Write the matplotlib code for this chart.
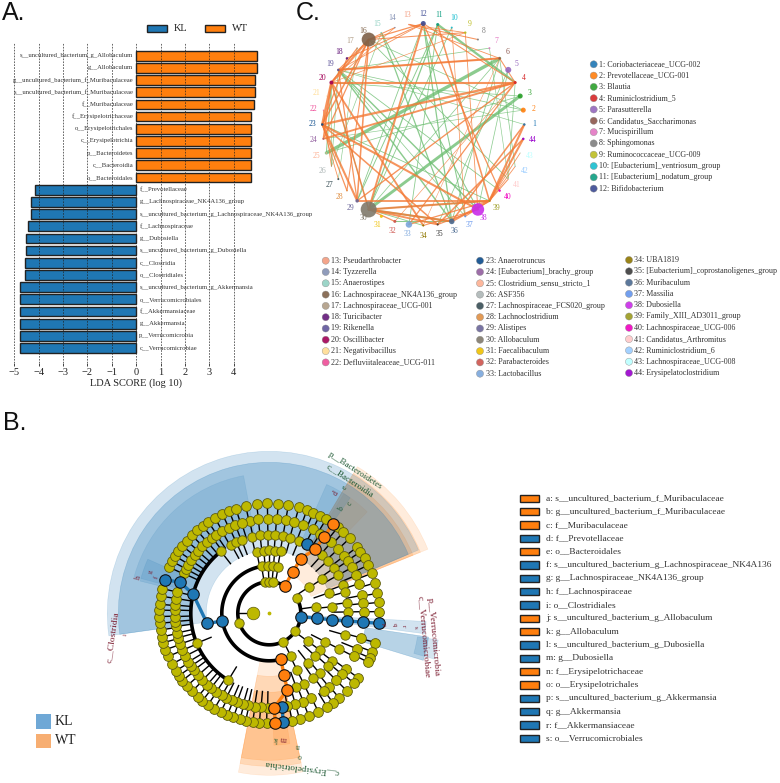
#!/usr/bin/env python3
"""LDA bars, correlation network and cladogram panels."""

import matplotlib

matplotlib.use("Agg")
import matplotlib.pyplot as plt
import numpy as np
from matplotlib.patches import Rectangle

BLUE = "#1f77b4"
ORANGE = "#ff7f0e"
OLIVE = "#bdb800"

# panel A
wt_labels = [
    "s__uncultured_bacterium_g_Allobaculum", "g__Allobaculum",
    "g__uncultured_bacterium_f_Muribaculaceae", "s__uncultured_bacterium_f_Muribaculaceae",
    "f__Muribaculaceae", "f__Erysipelotrichaceae", "o__Erysipelotrichales",
    "c__Erysipelotrichia", "p__Bacteroidetes", "c__Bacteroidia", "o__Bacteroidales",
]
wt_scores = [4.95, 4.95, 4.88, 4.88, 4.82, 4.71, 4.71, 4.71, 4.69, 4.69, 4.69]
kl_labels = [
    "f__Prevotellaceae", "g__Lachnospiraceae_NK4A136_group",
    "s__uncultured_bacterium_g_Lachnospiraceae_NK4A136_group", "f__Lachnospiraceae",
    "g__Dubosiella", "s__uncultured_bacterium_g_Dubosiella", "c__Clostridia",
    "o__Clostridiales", "s__uncultured_bacterium_g_Akkermansia", "o__Verrucomicrobiales",
    "f__Akkermansiaceae", "g__Akkermansia", "p__Verrucomicrobia", "c__Verrucomicrobiae",
]
kl_scores = [-4.15, -4.32, -4.32, -4.44, -4.51, -4.51, -4.56, -4.58,
             -4.77, -4.77, -4.77, -4.77, -4.77, -4.77]
lda_ticks = [-5, -4, -3, -2, -1, 0, 1, 2, 3, 4]

# panel C
genus_names = [
    "Coriobacteriaceae_UCG-002", "Prevotellaceae_UCG-001", "Blautia", "Ruminiclostridium_5",
    "Parasutterella", "Candidatus_Saccharimonas", "Mucispirillum", "Sphingomonas",
    "Ruminococcaceae_UCG-009", "[Eubacterium]_ventriosum_group", "[Eubacterium]_nodatum_group",
    "Bifidobacterium", "Pseudarthrobacter", "Tyzzerella", "Anaerostipes",
    "Lachnospiraceae_NK4A136_group", "Lachnospiraceae_UCG-001", "Turicibacter", "Rikenella",
    "Oscillibacter", "Negativibacillus", "Defluviitaleaceae_UCG-011", "Anaerotruncus",
    "[Eubacterium]_brachy_group", "Clostridium_sensu_stricto_1", "ASF356",
    "Lachnospiraceae_FCS020_group", "Lachnoclostridium", "Alistipes", "Allobaculum",
    "Faecalibaculum", "Parabacteroides", "Lactobacillus", "UBA1819",
    "[Eubacterium]_coprostanoligenes_group", "Muribaculum", "Massilia", "Dubosiella",
    "Family_XIII_AD3011_group", "Lachnospiraceae_UCG-006", "Candidatus_Arthromitus",
    "Ruminiclostridium_6", "Lachnospiraceae_UCG-008", "Erysipelatoclostridium",
]
genus_colors = [
    "#1f77b4", "#ff7f0e", "#2ca02c", "#d62728", "#9467bd", "#8c564b", "#e377c2", "#7f7f7f",
    "#bcbd22", "#17becf", "#0d9e81", "#3b4992", "#f39b7f", "#8491b4", "#91d1c2", "#7e6148",
    "#b09c85", "#631879", "#5f559b", "#a20056", "#ffdc91", "#ee4c97", "#0a4a8b", "#925e9f",
    "#fdaf91", "#adb6b6", "#374e55", "#df8f44", "#6a6599", "#80796b", "#efc000", "#cd534c",
    "#7aa6dc", "#8f7700", "#3b3b3b", "#4a6990", "#6495ed", "#c92be8", "#9a9a1e", "#f000c0",
    "#ffc8c8", "#99ccff", "#bbffff", "#9900cc",
]
genus_sizes = [2.5, 5, 5, 3, 6, 2.5, 2, 2, 2.5, 2, 3, 5, 1.5, 1.5, 1.5, 14, 1.5, 2.5, 2.5, 4,
               1, 1, 2.5, 1.5, 1.5, 1, 2, 1.5, 3.5, 16, 3, 3, 6.5, 2, 2, 5.5, 2, 12.5, 2, 2.5,
               1.5, 1, 1, 2.5]
orange_edges = [
    (4, 20, 2.0), (4, 23, 2.2), (4, 24, 1.8), (6, 19, 2.0), (4, 6, 1.0), (12, 30, 1.8),
    (39, 44, 2.0), (39, 1, 2.0), (36, 1, 1.5), (35, 44, 1.5), (23, 38, 2.0), (23, 35, 1.5),
    (30, 39, 2.0), (29, 39, 1.8), (30, 36, 2.0), (30, 35, 1.8), (30, 32, 1.2), (23, 29, 2.0),
    (20, 23, 2.5), (20, 30, 1.5), (19, 29, 1.2), (20, 34, 1.8), (16, 24, 1.2), (16, 20, 2.0),
    (17, 20, 1.2), (18, 23, 1.2), (16, 23, 1.5), (16, 19, 1.0), (16, 29, 1.5), (16, 28, 1.0),
    (20, 24, 1.5), (22, 26, 0.8), (23, 27, 0.8), (23, 28, 1.2), (12, 16, 1.2), (16, 9, 1.0),
    (18, 12, 1.0), (19, 12, 0.8), (13, 8, 1.0), (13, 9, 0.8), (12, 40, 1.2), (11, 39, 1.5),
    (9, 38, 0.8), (10, 37, 0.7), (33, 4, 1.2), (32, 4, 0.6), (29, 4, 1.3), (33, 39, 1.2),
    (36, 39, 2.0), (35, 38, 1.2), (34, 38, 1.0), (37, 39, 1.0), (39, 41, 1.0), (39, 42, 0.8),
    (39, 43, 0.8), (19, 6, 0.8), (20, 9, 0.6), (14, 20, 0.7), (6, 34, 0.5), (14, 16, 1.0),
    (12, 4, 1.0), (13, 6, 0.8),
]
green_edges = [
    (6, 25, 3.2), (3, 30, 2.8), (11, 4, 2.2), (11, 30, 1.2), (15, 36, 1.2), (19, 36, 1.4),
    (19, 38, 1.4), (7, 19, 0.7), (19, 2, 0.7), (20, 3, 0.7), (19, 1, 0.6), (16, 2, 0.7),
    (11, 29, 0.9), (10, 30, 0.8), (36, 6, 0.8), (35, 5, 0.7), (38, 5, 0.7), (37, 12, 1.0),
    (36, 12, 1.2), (33, 11, 0.8), (30, 6, 0.7), (25, 3, 0.7), (24, 2, 0.6), (30, 39, 1.0),
    (30, 36, 1.6), (30, 34, 0.8), (32, 36, 1.0), (20, 30, 0.8), (20, 26, 0.6), (19, 26, 0.7),
    (17, 27, 0.6), (15, 26, 0.6), (19, 40, 0.8), (41, 4, 0.7), (42, 6, 0.7), (41, 7, 0.6),
    (15, 38, 1.0), (16, 41, 0.8), (12, 29, 0.8), (23, 39, 0.8), (19, 37, 0.7), (20, 25, 1.0),
]

# panel B, angles in degrees, one list per ring of the tree
ring7_angles = [
    91, 85.3, 80, 74.4, 70, 66.4, 62.7, 58.9, 51.5, 47.6, 43, 37, 34, 30, 26, 21.3, 16, 10.5,
    5.7, 0.9, -15.4, -20.4, -23.9, -26.3, -36, -39.5, -45, -50.5, -54.6, -58.3, -63.5, -69,
    -74, -78, -91.4, -95.2, -98.7, -102.4, -105.5, -109, -112.4, -116.2, -119.9, -123.8,
    -127.4, -130.6, -134.7, -138.6, -142.3, -145.4, -148.4, -152.5, -156.9, -160.7, -164.5,
    -167.6, -171.3, -174.8, -178.3, 178.3, 175.3, 171, 167, 155.3, 151.9, 148.7, 145.7,
    142.3, 138.7, 134.8, 131.1, 127.2, 123.7, 119.7, 115.3, 111.4, 107.7, 102.4, 96.6,
]
ring6_angles = [
    102, 96.7, 91, 85.6, 80, 74.8, 69.3, 62.5, 57.4, 48.9, 43, 37.4, 33.7, 29, 23.7, 18.3, 11,
    6, 1, -15, -22, -27, -36, -40, -45, -51, -55, -64, -69, -74, -79, -91, -95, -99, -103,
    -106, -110, -113, -117, -120, -124, -128, -131, -135, -139, -143, -146, -149, -153, -157,
    -161, -165, -168, -172, -175, -178, 178, 175, 171, 167, 155, 152, 149, 146, 142, 139, 135,
    131, 127, 124, 120, 115, 111, 107,
]
ring5_angles = [103, 96.8, 91, 85.6, 80, 74.4, 68, 48, 42, 35, 29, 21, 15.7, 7.8, 1, -16, -27,
                -37, -42, -50, -56, -64, -70, 128, 119, 115, 110.6, -157.6, -121.5]
ring4_angles = [101.6, 95, 90, 85, 79.7, 33, 19, 6, -27, -36, -43, -52, -64]
ring3_angles = [99.3, 91, 85, 79, 33.7, 8, -36, -63.3]
ring2_angles = [98, 90, 83, 28.8, -34.8, -63.7, -161.6]
ring_radius = [0, 16, 31.5, 47.5, 63, 78.5, 94.5, 110]

chain_kl_a = [(-6, 2), (-6, 3), (-5.8, 4), (-5.6, 5), (-5.4, 6), (-5.2, 7)]
chain_kl_b = [(-170.6, 3), (-170.8, 4), (166, 5), (160.7, 6), (162.3, 7)]
chain_kl_c = [(61.7, 5)]
chain_kl_d = [(-82.9, 7), (-82, 6)]
chain_wt_a = [(60.5, 2), (60.4, 3), (60, 4), (54.5, 5), (54.3, 6), (54.6, 7)]
chain_wt_b = [(-75.7, 3), (-76.6, 4), (-76.7, 5), (-87, 6), (-86.9, 7)]

arc_level = [2, 2, 3, 5]
arc_start = [60, -64, 99, 128]
arc_stop = [296, 29, 284, 238.5]
arc_width = [2.6, 2.6, 2.6, 2.6]

wedge_start = [23, 23, 100.6, 156, 55,
               22, 22, 22, 46,
               -101, -101, -101, -88,
               -17, -15.5, -7.5]
wedge_stop = [188, 188, 164.8, 166, 66,
              59, 59, 59, 58,
              -78, -78, -78, -81,
              -8.5, -9, -3]
wedge_inner = [63, 78.5, 79, 94, 79,
               45, 63, 78.5, 106,
               48, 63, 79, 112,
               97, 150, 32]
wedge_outer = [162, 151, 140, 133, 141,
               171, 163, 155, 141,
               162, 153, 147, 132,
               161, 171, 157]
wedge_color = [BLUE, BLUE, BLUE, BLUE, BLUE,
               ORANGE, ORANGE, ORANGE, ORANGE,
               ORANGE, ORANGE, ORANGE, ORANGE,
               BLUE, BLUE, BLUE]
wedge_alpha = [0.2, 0.27, 0.14, 0.16, 0.15,
               0.14, 0.16, 0.18, 0.12,
               0.14, 0.18, 0.22, 0.15,
               0.32, 0.18, 0.2]

clade_keys = [
    "a: s__uncultured_bacterium_f_Muribaculaceae", "b: g__uncultured_bacterium_f_Muribaculaceae",
    "c: f__Muribaculaceae", "d: f__Prevotellaceae", "e: o__Bacteroidales",
    "f: s__uncultured_bacterium_g_Lachnospiraceae_NK4A136", "g: g__Lachnospiraceae_NK4A136_group",
    "h: f__Lachnospiraceae", "i: o__Clostridiales", "j: s__uncultured_bacterium_g_Allobaculum",
    "k: g__Allobaculum", "l: s__uncultured_bacterium_g_Dubosiella", "m: g__Dubosiella",
    "n: f__Erysipelotrichaceae", "o: o__Erysipelotrichales",
    "p: s__uncultured_bacterium_g_Akkermansia", "q: g__Akkermansia", "r: f__Akkermansiaceae",
    "s: o__Verrucomicrobiales",
]
clade_key_colors = [ORANGE, ORANGE, ORANGE, BLUE, ORANGE, BLUE, BLUE, BLUE, BLUE, ORANGE, ORANGE,
                    BLUE, BLUE, ORANGE, ORANGE, BLUE, BLUE, BLUE, BLUE]

plt.rcParams["font.family"] = ["Liberation Serif", "DejaVu Serif"]

W, H = 780, 783
fig = plt.figure(figsize=(W / 100, H / 100), dpi=100)


def rect(left, top, right, bottom):
    return [left / W, 1 - bottom / H, (right - left) / W, (bottom - top) / H]


page = fig.add_axes([0, 0, 1, 1], zorder=5)
page.set_xlim(0, W)
page.set_ylim(H, 0)
page.axis("off")
page.patch.set_alpha(0)

for letter, x, y in (("A.", 2, 13), ("C.", 296, 13), ("B.", 3, 423)):
    page.text(x, y, letter, family="Liberation Sans", fontsize=18, va="center", color="#111111")

# panel A
ax = fig.add_axes(rect(14.3, 43, 263, 362.7))
ax.set_xlim(-5, 5.2)
ax.set_ylim(25.2, -1.04)
y_wt = np.arange(len(wt_scores))
y_kl = np.arange(len(kl_scores)) + len(wt_scores)
ax.barh(y_wt, wt_scores, height=0.8, color=ORANGE, edgecolor="#222222", linewidth=1.0, zorder=2)
ax.barh(y_kl, kl_scores, height=0.8, color=BLUE, edgecolor="#222222", linewidth=1.0, zorder=2)
ax.set_xticks(lda_ticks, [str(t).replace("-", "\u2212") for t in lda_ticks])
ax.set_yticks([])
ax.tick_params(axis="x", length=2, width=0.6, labelsize=7.5, pad=1.5, colors="#222222")
ax.grid(axis="x", color="#222222", linestyle=(0, (2, 1.5)), linewidth=0.6, alpha=0.8, zorder=3)
ax.set_axisbelow(False)
for spine in ax.spines.values():
    spine.set_visible(False)
ax.set_xlabel("LDA SCORE (log 10)", fontsize=7.5, labelpad=1, x=0.49, color="#222222")
for pos, label in zip(y_wt, wt_labels):
    ax.text(-0.12, pos, label, ha="right", va="center", fontsize=4.75, color="#333333", zorder=4)
for pos, label in zip(y_kl, kl_labels):
    ax.text(0.13, pos, label, ha="left", va="center", fontsize=4.75, color="#333333", zorder=4,
            clip_on=False)

for x, color, name in ((147, BLUE, "KL"), (205, ORANGE, "WT")):
    page.add_patch(Rectangle((x, 24.5), 19.5, 7.5, facecolor=color, edgecolor="#222222", linewidth=1))
    page.text(x + 27, 28.5, name, fontsize=7.5, va="center", color="#222222")

# panel C
net = fig.add_axes(rect(423.3 - 125, 124.5 - 125, 423.3 + 125, 124.5 + 125))
net.set_xlim(-125, 125)
net.set_ylim(-125, 125)
net.axis("off")
net.patch.set_alpha(0)
step = 2 * np.pi / len(genus_names)
node_x = 101 * np.cos(step * np.arange(len(genus_names)))
node_y = 101 * np.sin(step * np.arange(len(genus_names)))
for edges, color in ((green_edges, "#6fbf73"), (orange_edges, "#f47a36")):
    for a, b, width in edges:
        net.plot([node_x[a - 1], node_x[b - 1]], [node_y[a - 1], node_y[b - 1]], color=color,
                 linewidth=width * 0.75, alpha=0.8, solid_capstyle="round", zorder=2)
net.scatter(node_x, node_y, s=[(d * 0.72) ** 2 for d in genus_sizes], c=genus_colors,
            linewidths=0, zorder=3, alpha=0.9)
for i, color in enumerate(genus_colors):
    net.text(111 * np.cos(step * i), 111 * np.sin(step * i), str(i + 1), color=color, fontsize=5.5,
             ha="center", va="center", clip_on=False)

legend_columns = [(593.7, 64.3, 0, 12), (325.7, 260.7, 12, 22), (480, 260.7, 22, 33), (629, 260, 33, 44)]
for x, y0, first, last in legend_columns:
    ys = y0 + 11.3 * np.arange(last - first)
    page.scatter([x] * len(ys), ys, s=26, c=genus_colors[first:last], linewidths=0.3,
                 edgecolors="#888888", alpha=0.9)
    for y, i in zip(ys, range(first, last)):
        page.text(x + 5.5, y, f"{i + 1}: {genus_names[i]}", fontsize=5.75, va="center", color="#333333")

# panel B
clade_r = 175
clade = fig.add_axes(rect(269.3 - clade_r, 613.3 - clade_r, 269.3 + clade_r, 613.3 + clade_r),
                     projection="polar")
clade.set_rlim(0, clade_r)
clade.axis("off")
clade.patch.set_alpha(0)
for start, stop, inner, outer, color, alpha in zip(wedge_start, wedge_stop, wedge_inner, wedge_outer,
                                                   wedge_color, wedge_alpha):
    # blue goes over orange so the overlap turns grey-brown
    clade.bar(np.radians((start + stop) / 2), outer - inner, np.radians(stop - start), bottom=inner,
              color=color, alpha=alpha, linewidth=0.4, edgecolor=color,
              zorder=1.2 if color == BLUE else 1)

for level, start, stop, width in zip(arc_level, arc_start, arc_stop, arc_width):
    theta = np.radians(np.linspace(start, stop, 120))
    clade.plot(theta, np.full(120, ring_radius[level]), color="black", linewidth=width, zorder=2)

rings = [(7, ring7_angles, 9.8), (6, ring6_angles, 9.8), (5, ring5_angles, 9.4),
         (4, ring4_angles, 9.4), (3, ring3_angles, 9.4), (2, ring2_angles, 9.4)]
for level, angles, size in rings:
    theta = np.radians(angles)
    if level > 2:
        for t in theta:
            clade.plot([t, t], [ring_radius[level - 1], ring_radius[level]], color="black",
                       linewidth=1.0, zorder=2)
    clade.scatter(theta, np.full(len(theta), ring_radius[level]), s=(size * 0.72) ** 2, color=OLIVE,
                  edgecolors="#5e5c10", linewidths=0.6, zorder=4)
clade.plot([np.pi, np.pi], [ring_radius[1], ring_radius[2]], color="black", linewidth=1.0, zorder=2)
clade.scatter([np.pi], [ring_radius[1]], s=(12.6 * 0.72) ** 2, color=OLIVE, edgecolors="#5e5c10",
              linewidths=0.5, zorder=4)
clade.scatter([0], [0], s=3, color=OLIVE, zorder=4)

for chain, color in ((chain_kl_a, BLUE), (chain_kl_b, BLUE), (chain_kl_c, BLUE), (chain_kl_d, BLUE),
                     (chain_wt_a, ORANGE), (chain_wt_b, ORANGE)):
    theta = np.radians([c[0] for c in chain])
    radius = [ring_radius[c[1]] for c in chain]
    clade.plot(theta, radius, color=color, linewidth=2.4, zorder=5)
    clade.scatter(theta, radius, s=(11.5 * 0.72) ** 2, color=color, edgecolors="#111111",
                  linewidths=0.8, zorder=6)

GREEN_TEXT = "#1f5a35"
RED_TEXT = "#7a1a2e"
clade_texts = [
    ("p__Bacteroidetes", 355, 471, -33, GREEN_TEXT, 6.5), ("c__Bacteroidia", 350, 481, -33, GREEN_TEXT, 6.5),
    ("c__Clostridia", 113, 637, 82, RED_TEXT, 6.8), ("p__Verrucomicrobia", 433, 637, -85, RED_TEXT, 6.8),
    ("c__Verrucomicrobiae", 424, 637, -85, RED_TEXT, 6.8), ("c__Erysipelotrichia", 302, 767, 173, GREEN_TEXT, 6.8),
    ("d", 336, 493, 60, RED_TEXT, 5.5), ("e", 345, 488, 60, GREEN_TEXT, 5.5), ("b", 341, 509, 60, GREEN_TEXT, 5.5),
    ("c", 350, 504, 60, GREEN_TEXT, 5.5), ("h", 138, 578, 75, RED_TEXT, 5.5), ("g", 151, 572, 75, RED_TEXT, 5),
    ("f", 157, 577, 75, RED_TEXT, 5), ("i", 125, 635, 80, RED_TEXT, 5), ("s", 415, 627, -85, RED_TEXT, 5),
    ("r", 404, 626, -85, RED_TEXT, 5), ("q", 394, 625, -85, RED_TEXT, 5), ("p", 384, 625, -85, RED_TEXT, 5),
    ("n", 298, 746, 175, GREEN_TEXT, 5.5), ("o", 300, 756, 175, GREEN_TEXT, 5.5), ("m", 284, 739, 175, RED_TEXT, 5.5),
    ("k", 276, 739, 175, GREEN_TEXT, 5.5),
]
for text, x, y, rotation, color, size in clade_texts:
    page.text(x, y, text, rotation=rotation, rotation_mode="anchor", ha="center", va="center",
              color=color, fontsize=size)

for i, (text, color) in enumerate(zip(clade_keys, clade_key_colors)):
    y = 498.3 + 13.33 * i
    page.add_patch(Rectangle((519.5, y - 3.7), 19, 7.4, facecolor=color, edgecolor="#222222", linewidth=1))
    page.text(546.3, y, text, fontsize=6.75, va="center", color="#333333")

for y, color, name in ((714, "#6fa8d6", "KL"), (733.5, "#f7ae72", "WT")):
    page.add_patch(Rectangle((36, y), 14.5, 14.5, facecolor=color, edgecolor="none"))
    page.text(55, y + 7.5, name, fontsize=10, va="center", color="#222222")

fig.savefig("out.png", dpi=100)
